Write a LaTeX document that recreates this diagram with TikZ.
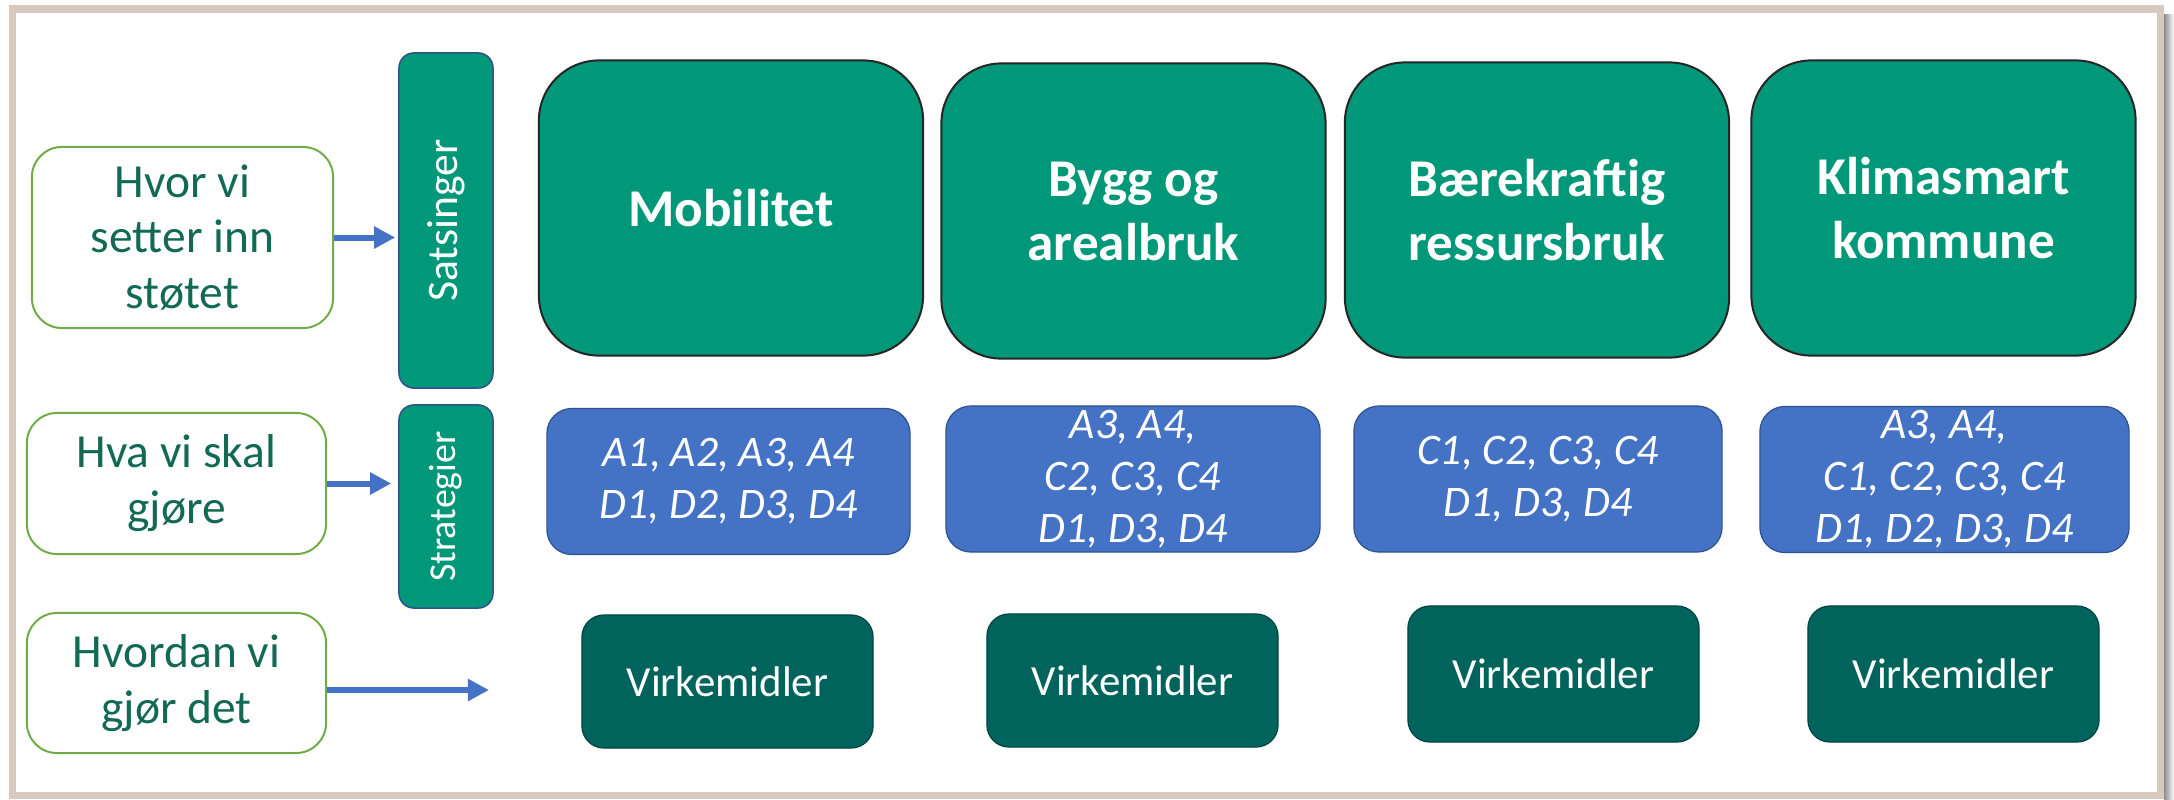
\documentclass[tikz,border=0pt]{standalone}
\usepackage{fontspec}
\setmainfont{Carlito}
\usetikzlibrary{arrows.meta}

\definecolor{ramme}{HTML}{D7C9C0}
\definecolor{satsgronn}{HTML}{009879}
\definecolor{strategiblaa}{HTML}{4472C4}
\definecolor{kantblaa}{HTML}{2F528F}
\definecolor{virkgronn}{HTML}{00635C}
\definecolor{lysgronn}{HTML}{70AD47}
\definecolor{morkgronn}{HTML}{126A54}

\tikzset{
    spor/.style={draw=lysgronn, line width=0.02cm, fill=white, rounded corners=0.3cm,
        text=morkgronn, align=center, inner sep=0pt,
        font=\fontsize{13.5}{15.9}\selectfont},
    fane/.style={draw=kantblaa, line width=0.015cm, fill=satsgronn, rounded corners=0.15cm,
        text=white, align=center, inner sep=0pt, rotate=90},
    satsing/.style={draw=black!85, line width=0.02cm, fill=satsgronn, rounded corners=0.6cm,
        text=white, align=center, inner sep=0pt,
        minimum width=3.84cm, minimum height=2.95cm,
        font=\bfseries\fontsize{15.1}{18.2}\selectfont},
    strategi/.style={draw=kantblaa, line width=0.012cm, fill=strategiblaa, rounded corners=0.25cm,
        text=white, align=center, inner sep=0pt,
        minimum width=3.68cm, minimum height=1.46cm,
        font=\itshape\fontsize{12.4}{14.8}\selectfont},
    virkemiddel/.style={draw=virkgronn!70!black, line width=0.012cm, fill=virkgronn, rounded corners=0.22cm,
        text=white, align=center, inner sep=0pt,
        minimum width=2.91cm, minimum height=1.33cm,
        font=\fontsize{12.2}{14.6}\selectfont},
    pil/.style={draw=strategiblaa, line width=0.06cm, -{Triangle[length=0.21cm, width=0.21cm]}},
}

\begin{document}
\begin{tikzpicture}[x=0.01cm, y=-0.01cm]
    \useasboundingbox (0,0) rectangle (2174,799);
    \fill[white] (0,0) rectangle (2174,799);
    % ramme med skygge
    \shade[left color=black!45, right color=white] (2164,14) rectangle (2174,799);
    \draw[ramme, line width=0.075cm] (12.5,9) rectangle (2160.5,795.5);

    % venstre kolonne
    \node[spor, minimum width=3.01cm, minimum height=1.81cm] (hvor) at (182.5,237.5) {Hvor vi\\setter inn\\støtet};
    \node[spor, minimum width=2.99cm, minimum height=1.41cm] (hva) at (176.5,483.5) {Hva vi skal\\gjøre};
    \node[spor, minimum width=2.99cm, minimum height=1.40cm] (hvordan) at (176.5,683) {Hvordan vi\\gjør det};

    % faner (rotert: north peker mot venstre)
    \node[fane, minimum width=3.35cm, minimum height=0.94cm, font=\fontsize{12.4}{14.8}\selectfont] (sats) at (446,220.5) {Satsinger};
    \node[fane, minimum width=2.03cm, minimum height=0.94cm, font=\fontsize{10.8}{13}\selectfont] (strat) at (446,506.5) {Strategier};

    % satsingsomraader
    \node[satsing] (mob) at (731,208) {Mobilitet};
    \node[satsing] (bygg) at (1133.5,211) {Bygg og\\arealbruk};
    \node[satsing] (baere) at (1537,210) {Bærekraftig\\ressursbruk};
    \node[satsing] (klima) at (1943.5,208) {Klimasmart\\kommune};

    % strategier
    \node[strategi, minimum width=3.63cm] (s1) at (728.5,481.5) {A1, A2, A3, A4\\D1, D2, D3, D4};
    \node[strategi, minimum width=3.74cm] (s2) at (1133,479) {A3, A4,\\C2, C3, C4\\D1, D3, D4};
    \node[strategi] (s3) at (1538,479) {C1, C2, C3, C4\\D1, D3, D4};
    \node[strategi, minimum width=3.69cm] (s4) at (1944.5,479.5) {A3, A4,\\C1, C2, C3, C4\\D1, D2, D3, D4};

    % virkemidler
    \node[virkemiddel] (v1) at (727.5,681.5) {Virkemidler};
    \node[virkemiddel] (v2) at (1132.5,680.5) {Virkemidler};
    \node[virkemiddel, minimum height=1.36cm] (v3) at (1553.5,674) {Virkemidler};
    \node[virkemiddel, minimum height=1.36cm] (v4) at (1953.5,674) {Virkemidler};

    % piler
    \coordinate (virkinn) at (489,690);
    \draw[pil, shorten >=0.03cm] (hvor.east) -- (hvor.east -| sats.north);
    \draw[pil, shorten >=0.07cm] (hva.east) -- (hva.east -| strat.north);
    \draw[pil] (hvordan.east |- virkinn) -- (virkinn);
\end{tikzpicture}
\end{document}
